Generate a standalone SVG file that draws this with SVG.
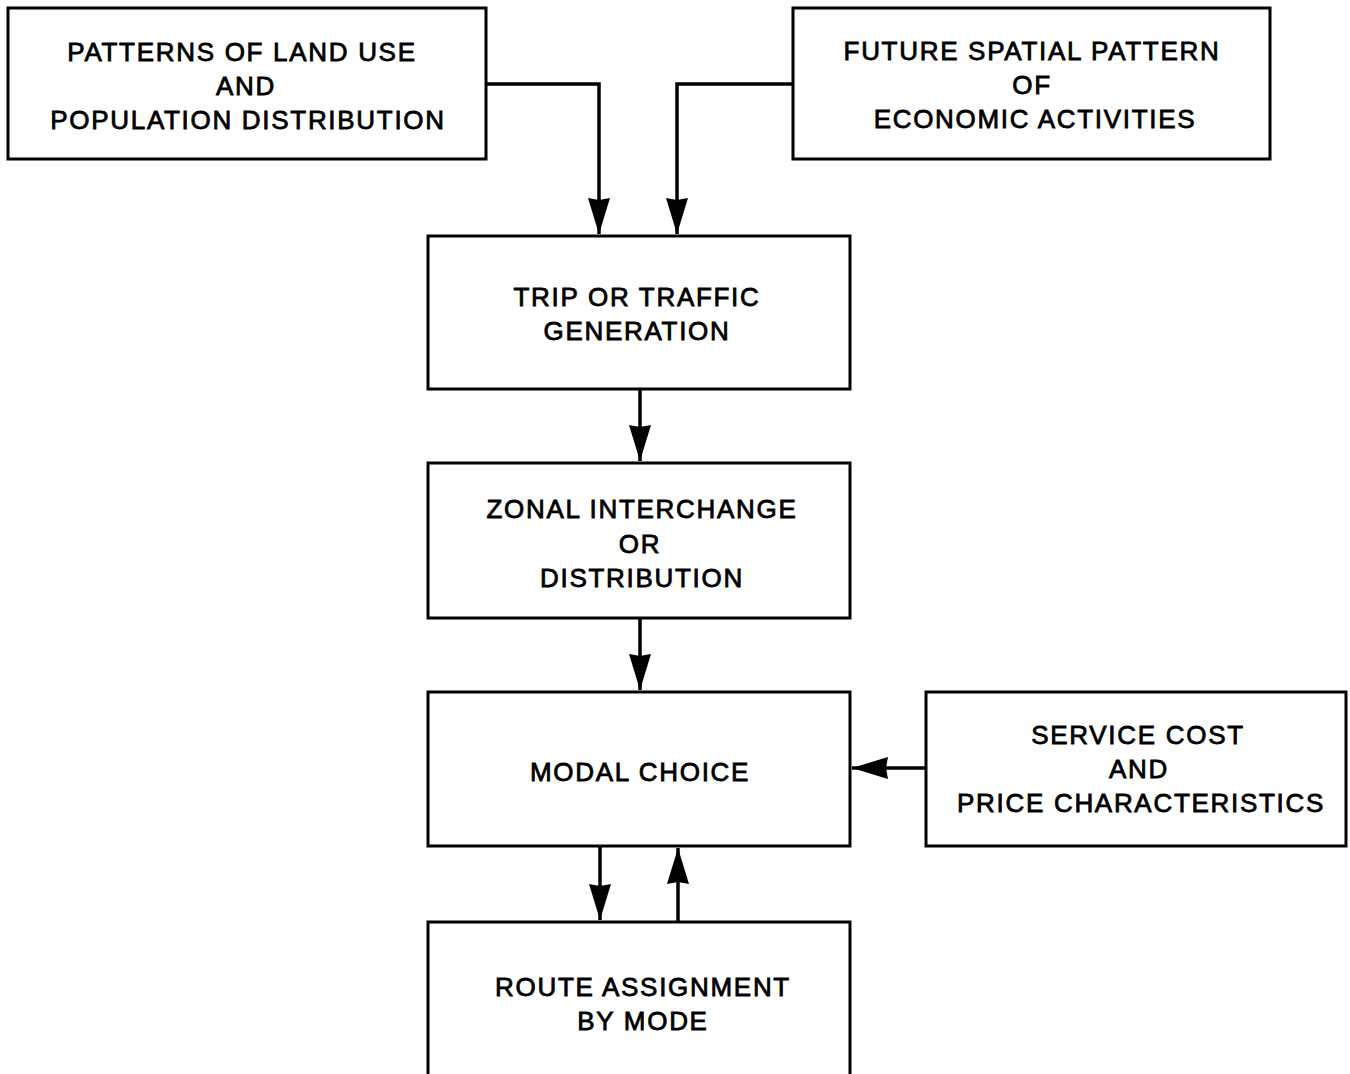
<svg xmlns="http://www.w3.org/2000/svg" width="1350" height="1074" viewBox="0 0 1350 1074">
<style>
.box{fill:#fff;stroke:#000;stroke-width:3}
.t{font-family:"Liberation Sans",Arial,sans-serif;font-size:26px;text-anchor:middle;fill:#000;letter-spacing:1.7px;stroke:#000;stroke-width:0.8}
.c{fill:none;stroke:#000;stroke-width:3.5}
</style>
<defs>
<marker id="ah" markerUnits="userSpaceOnUse" markerWidth="36" markerHeight="22" viewBox="0 0 36 22" refX="36" refY="11" orient="auto">
<path d="M0,0 L36,11 L0,22 L2,11 Z" fill="#000"/>
</marker>
</defs>
<rect width="1350" height="1074" fill="#fff"/>
<g id="n1"><rect class="box" x="8" y="8" width="478" height="151"/>
<text class="t" x="242" y="61">PATTERNS OF LAND USE</text><text class="t" x="246" y="95">AND</text><text class="t" x="248" y="129">POPULATION DISTRIBUTION</text></g>
<g id="n2"><rect class="box" x="793" y="8" width="477" height="151"/>
<text class="t" x="1032" y="60">FUTURE SPATIAL PATTERN</text><text class="t" x="1032" y="94">OF</text><text class="t" x="1035" y="128">ECONOMIC ACTIVITIES</text></g>
<g id="n3"><rect class="box" x="428" y="236" width="422" height="153"/>
<text class="t" x="637" y="306">TRIP OR TRAFFIC</text><text class="t" x="637" y="340">GENERATION</text></g>
<g id="n4"><rect class="box" x="428" y="463" width="422" height="155"/>
<text class="t" x="642" y="518">ZONAL INTERCHANGE</text><text class="t" x="640" y="553">OR</text><text class="t" x="642" y="587">DISTRIBUTION</text></g>
<g id="n5"><rect class="box" x="428" y="692" width="422" height="154"/>
<text class="t" x="640" y="781">MODAL CHOICE</text></g>
<g id="n6"><rect class="box" x="926" y="692" width="420" height="154"/>
<text class="t" x="1138" y="744">SERVICE COST</text><text class="t" x="1139" y="778">AND</text><text class="t" x="1141" y="812">PRICE CHARACTERISTICS</text></g>
<g id="n7"><rect class="box" x="428" y="922" width="422" height="160"/>
<text class="t" x="643" y="996">ROUTE ASSIGNMENT</text><text class="t" x="643" y="1030">BY MODE</text></g>
<g id="connectors">
<path class="c" d="M486,84 H599 V234" marker-end="url(#ah)"/>
<path class="c" d="M793,84 H677 V234" marker-end="url(#ah)"/>
<path class="c" d="M640,389 V461" marker-end="url(#ah)"/>
<path class="c" d="M640,618 V690" marker-end="url(#ah)"/>
<path class="c" d="M926,768 H852" marker-end="url(#ah)"/>
<path class="c" d="M600,846 V920" marker-end="url(#ah)"/>
<path class="c" d="M678,922 V848" marker-end="url(#ah)"/>
</g>
</svg>
